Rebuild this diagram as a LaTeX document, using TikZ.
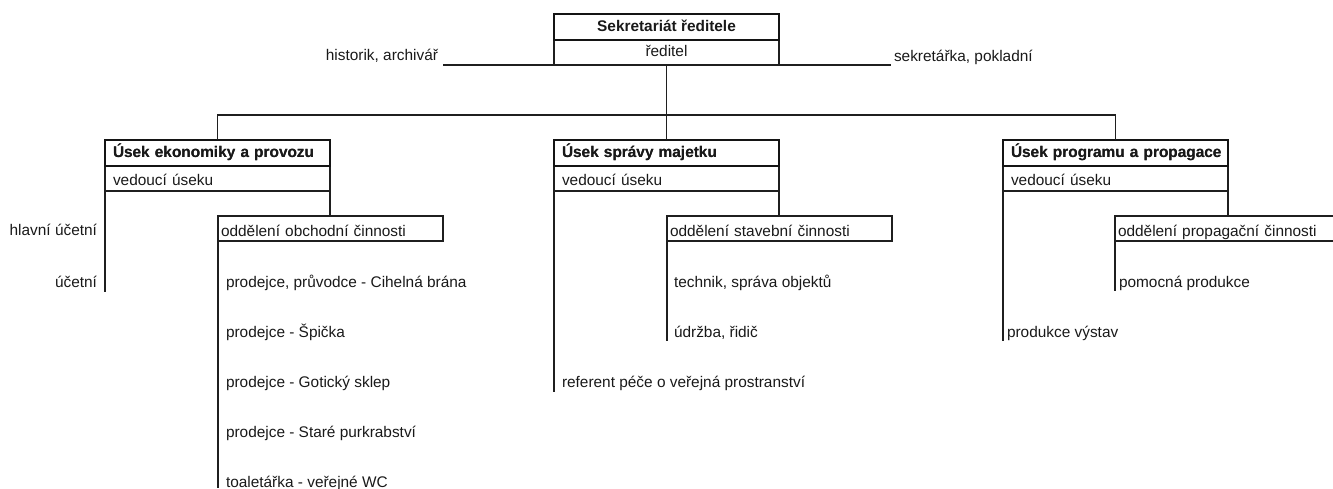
\documentclass[tikz,border=0pt]{standalone}
\usepackage{fontspec}
\setmainfont{Liberation Sans}
\begin{document}
\begin{tikzpicture}[x=1pt,y=-1pt,
  every node/.style={font=\fontsize{15.4}{18}\selectfont, text=black!90, outer sep=0pt},
  conn/.style={line width=1.5pt, draw=black!88},
  hdrbox/.style={draw=black!92, line width=2.6pt, font=\fontsize{15.4}{18}\selectfont\bfseries,
    minimum height=26pt, inner ysep=0pt, text height=11pt, text depth=3pt},
  topbox/.style={hdrbox, minimum width=225pt, inner xsep=0pt, anchor=north west},
  depbox/.style={hdrbox, text width=209pt, inner xsep=8pt, align=left, anchor=north west},
  lowbox/.style={draw=black!88, line width=1.3pt, minimum height=25pt, inner ysep=0pt, anchor=north},
  redbox/.style={lowbox, minimum width=225pt, inner xsep=0pt, text height=11pt, text depth=3pt},
  vedbox/.style={lowbox, text width=209pt, inner xsep=8pt, align=left, text height=13pt, text depth=0pt},
  subbox/.style={draw=black!88, line width=1.3pt, minimum height=25pt, inner ysep=0pt,
    text width=219pt, inner xsep=3pt, align=left, text height=15pt, text depth=0pt, anchor=north west},
  lblw/.style={anchor=base west, inner sep=0pt},
  lble/.style={anchor=base east, inner sep=0pt}
]
\useasboundingbox (0,0) rectangle (1333,488);
\clip (0,0) rectangle (1333,488);

% top box
\node[redbox] (red) at (666.5,40) {ředitel};
\node[topbox] (sek) at (554,14) {Sekretariát ředitele};
\node[lble] (hist) at (438,60) {historik, archivář};
\node[lblw] (sekr) at (894,61) {sekretářka, pokladní};
\coordinate (histend) at (443,65);
\coordinate (sekrend) at (891,65);
\draw[conn] (red.south west) -- (histend);
\draw[conn] (red.south east) -- (sekrend);

% department boxes
\node[depbox] (d1h) at (105,140) {\mbox{Úsek ekonomiky a provozu}};
\node[vedbox] (d1) at (d1h.south) {vedoucí úseku};
\node[depbox] (d2h) at (554,140) {\mbox{Úsek správy majetku}};
\node[vedbox] (d2) at (d2h.south) {vedoucí úseku};
\node[depbox] (d3h) at (1003,140) {\mbox{Úsek programu a propagace}};
\node[vedbox] (d3) at (d3h.south) {vedoucí úseku};
\node[depbox] at (105,140) {\mbox{Úsek ekonomiky a provozu}};
\node[depbox] at (554,140) {\mbox{Úsek správy majetku}};
\node[depbox] at (1003,140) {\mbox{Úsek programu a propagace}};

% bus
\draw[conn] (red.south) -- (red.south |- d2h.north);
\draw[conn] (d1h.north) -- ++(0,-25) -| (d3h.north);

% sub-departments
\node[subbox] (s1) at (218,216) {oddělení obchodní činnosti};
\node[subbox] (s2) at (667,216) {oddělení stavební činnosti};
\node[subbox] (s3) at (1115,216) {oddělení propagační činnosti};
\draw[conn] (d1.south east) -- (d1.south east |- s1.north);
\draw[conn] (d2.south east) -- (d2.south east |- s2.north);
\draw[conn] (d3.south east) -- (d3.south east |- s3.north);

% left department staff
\coordinate (d1end) at (105,292);
\draw[conn] (d1.south west) -- (d1end);
\node[lble] (hu) at (97,235) {hlavní účetní};
\node[lble] (uc) at (97,287) {účetní};

\coordinate (s1end) at (218,488);
\draw[conn] (s1.south west) -- (s1end);
\node[lblw] (p1) at (226,287) {prodejce, průvodce - Cihelná brána};
\node[lblw] (p2) at (226,337) {prodejce - Špička};
\node[lblw] (p3) at (226,387) {prodejce - Gotický sklep};
\node[lblw] (p4) at (226,437) {prodejce - Staré purkrabství};
\node[lblw] (p5) at (226,487) {toaletářka - veřejné WC};

% middle department staff
\coordinate (d2end) at (554,392);
\draw[conn] (d2.south west) -- (d2end);
\node[lblw] (ref) at (562,387) {referent péče o veřejná prostranství};
\coordinate (s2end) at (667,341);
\draw[conn] (s2.south west) -- (s2end);
\node[lblw] (tech) at (674,287) {technik, správa objektů};
\node[lblw] (udr) at (674,337) {údržba, řidič};

% right department staff
\coordinate (d3end) at (1003,341);
\draw[conn] (d3.south west) -- (d3end);
\node[lblw] (pv) at (1007,337) {produkce výstav};
\coordinate (s3end) at (1115,291);
\draw[conn] (s3.south west) -- (s3end);
\node[lblw] (pp) at (1119,287) {pomocná produkce};
\end{tikzpicture}
\end{document}
